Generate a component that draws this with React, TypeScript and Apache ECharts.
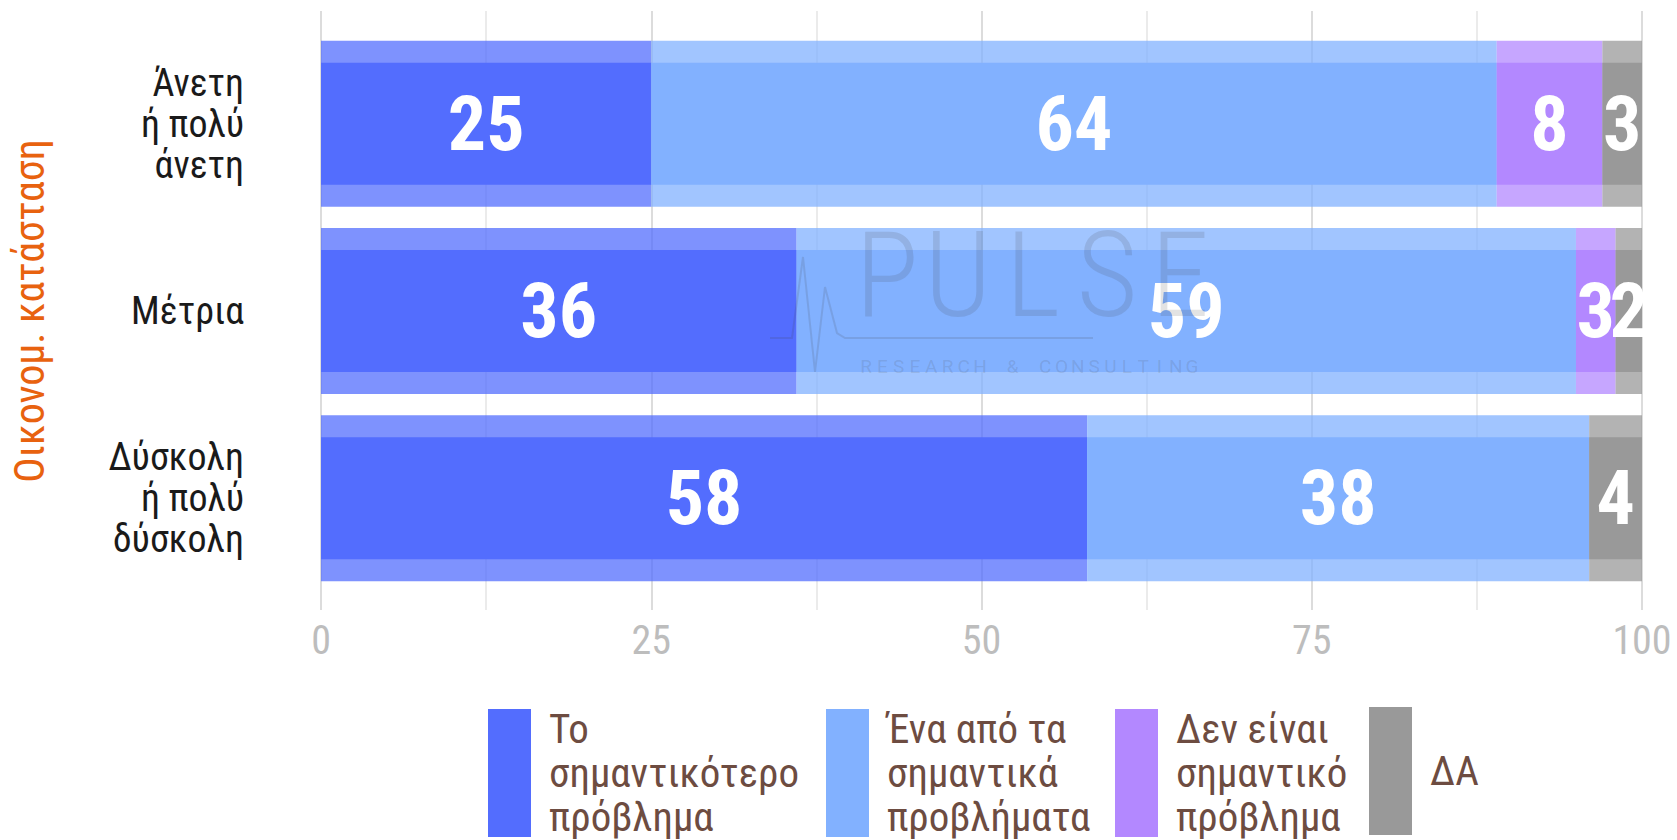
import React, { useEffect, useRef } from "react";
import * as echarts from "echarts";

const categories = ["Άνετη\nή πολύ\nάνετη", "Μέτρια", "Δύσκολη\nή πολύ\nδύσκολη"];
const seriesNames = [
  "Το σημαντικότερο πρόβλημα",
  "Ένα από τα σημαντικά προβλήματα",
  "Δεν είναι σημαντικό πρόβλημα",
  "ΔΑ",
];
const legendLabels = [
  "Το\nσημαντικότερο\nπρόβλημα",
  "Ένα από τα\nσημαντικά\nπροβλήματα",
  "Δεν είναι\nσημαντικό\nπρόβλημα",
  "ΔΑ",
];
const mostImportant = [25, 36, 58];
const oneOfImportant = [64, 59, 38];
const notImportant = [8, 3, 0];
const noAnswer = [3, 2, 4];
const xTickLabels = ["0", "25", "50", "75", "100"];
const axisTitle = "Οικονομ. κατάσταση";

const colors = ["#536DFE", "#82B1FF", "#B388FF", "#999999"];
const FONT = "'Roboto Condensed', 'Liberation Sans Narrow', 'Arial Narrow', Roboto, sans-serif";

export default function App() {
  const ref = useRef<HTMLDivElement>(null);
  useEffect(() => {
    if (!ref.current) return;
    const chart = echarts.init(ref.current, null, { renderer: "svg" });
    const values = [mostImportant, oneOfImportant, notImportant, noAnswer];
    const series: any[] = [];
    values.forEach((data, i) => {
      series.push({
        type: "bar",
        name: seriesNames[i] + "_bg",
        xAxisIndex: 1,
        yAxisIndex: 1,
        stack: "wide",
        barWidth: 166,
        data,
        silent: true,
        itemStyle: { color: colors[i], opacity: 0.75 },
      });
    });
    values.forEach((data, i) => {
      series.push({
        type: "bar",
        name: seriesNames[i],
        xAxisIndex: 2,
        yAxisIndex: 2,
        stack: "narrow",
        barWidth: 122,
        data,
        itemStyle: { color: colors[i] },
        label: {
          show: true,
          position: "inside",
          formatter: (p: any) => (p.value ? String(p.value) : ""),
          color: "#ffffff",
          fontSize: 76,
          fontWeight: "bold",
          fontFamily: FONT,
        },
      });
    });

    const legendLefts = [488, 826, 1115, 1369];
    const legends = seriesNames.map((n, i) => ({
      left: legendLefts[i],
      top: 707,
      padding: 0,
      icon: "rect",
      itemWidth: 43,
      itemHeight: 128,
      selectedMode: false,
      data: [{ name: n, itemStyle: { color: colors[i] } }],
      formatter: (name: string) => legendLabels[seriesNames.indexOf(name)],
      textStyle: {
        fontSize: 41,
        lineHeight: 44,
        color: "#6D4C41",
        fontFamily: FONT,
        padding: [0, 0, 0, 13],
      },
    }));

    // watermark
    const wmColor = "rgba(70,70,70,0.15)";
    const pulseLetters = ["P", "U", "L", "S", "E"];
    const pulseX = [887, 958, 1033, 1107, 1180];
    const sub = "RESEARCH & CONSULTING";
    const graphic: any[] = [];
    pulseLetters.forEach((ch, i) => {
      graphic.push({
        type: "text",
        x: pulseX[i],
        y: 276,
        z: 100,
        silent: true,
        style: {
          text: ch,
          fill: wmColor,
          fontSize: 118,
          fontWeight: 300,
          fontFamily: FONT,
          align: "center",
          verticalAlign: "middle",
        },
      });
    });
    sub.split("").forEach((ch, i) => {
      graphic.push({
        type: "text",
        x: 866 + i * 16.3,
        y: 366,
        z: 100,
        silent: true,
        style: {
          text: ch,
          fill: wmColor,
          fontSize: 19,
          fontFamily: "Roboto, sans-serif",
          align: "center",
          verticalAlign: "middle",
        },
      });
    });
    graphic.push({
      type: "polyline",
      z: 100,
      silent: true,
      shape: {
        points: [
          [770, 338], [792, 338], [803, 257], [815, 372], [825, 287],
          [837, 333], [845, 338], [1093, 338],
        ],
      },
      style: { stroke: wmColor, lineWidth: 2, fill: "none" },
    });

    const barGrid = { left: 321, right: 35, top: 30, bottom: 248 };
    chart.setOption({
      animation: false,
      backgroundColor: "#ffffff",
      textStyle: { fontFamily: FONT },
      grid: [
        { left: 321, right: 35, top: 11, bottom: 230 },
        barGrid,
        barGrid,
      ],
      xAxis: [
        {
          gridIndex: 0,
          type: "value",
          min: 0,
          max: 100,
          interval: 25,
          axisLine: { show: false },
          axisTick: { show: false },
          axisLabel: {
            color: "#BDBDBD",
            fontSize: 40,
            fontFamily: FONT,
            margin: 10,
            formatter: (v: number) => xTickLabels[Math.round(v / 25)],
          },
          splitLine: { show: true, lineStyle: { color: "#DCDCDC", width: 2 } },
          minorTick: { show: false, splitNumber: 2 },
          minorSplitLine: { show: true, lineStyle: { color: "#E4E4E4", width: 1.5 } },
        },
        { gridIndex: 1, type: "value", min: 0, max: 100, show: false },
        { gridIndex: 2, type: "value", min: 0, max: 100, show: false },
      ],
      yAxis: [
        { gridIndex: 0, type: "category", data: categories, show: false },
        {
          gridIndex: 1,
          type: "category",
          inverse: true,
          data: categories,
          axisLine: { show: false },
          axisTick: { show: false },
          splitLine: { show: false },
          axisLabel: {
            margin: 77,
            fontSize: 38,
            lineHeight: 41,
            color: "#1a1a1a",
            fontFamily: FONT,
            align: "right",
          },
          name: axisTitle,
          nameLocation: "middle",
          nameRotate: 90,
          nameGap: 271,
          nameTextStyle: { color: "#E8620F", fontSize: 42, fontFamily: FONT },
        },
        { gridIndex: 2, type: "category", inverse: true, data: categories, show: false },
      ],
      legend: legends,
      series,
      graphic,
    });
    return () => chart.dispose();
  }, []);
  return (
    <div
      ref={ref}
      style={{ position: "fixed", left: 0, top: 0, width: 1677, height: 840 }}
    />
  );
}
